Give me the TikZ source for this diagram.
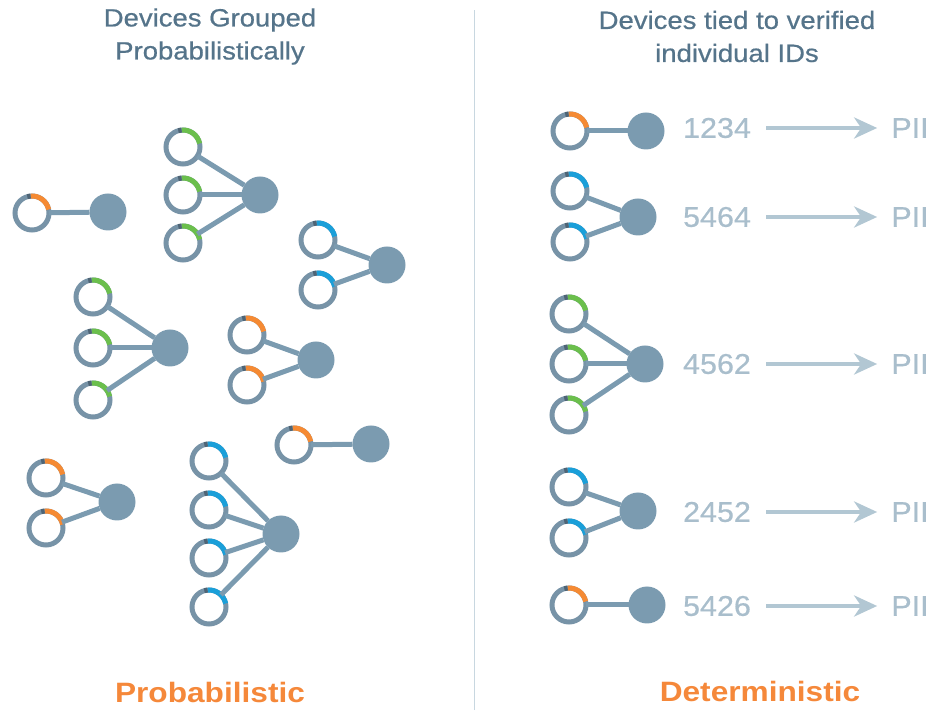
\documentclass[tikz,border=0pt]{standalone}
\usepackage{fontspec}
\setmainfont{Liberation Sans}
\newfontfamily\titlefont[FakeStretch=1.1,FakeBold=0.6]{Liberation Sans}
\newfontfamily\numfont[FakeStretch=1.07,FakeBold=0.6]{Liberation Sans}
\newfontfamily\labfont[FakeStretch=1.13]{Liberation Sans}
\usetikzlibrary{arrows.meta}
\definecolor{ringc}{HTML}{7793A7}
\definecolor{hubc}{HTML}{7B9BB0}
\definecolor{darkc}{HTML}{4E6475}
\definecolor{orangec}{HTML}{F58A33}
\definecolor{greenc}{HTML}{6BBF4C}
\definecolor{bluec}{HTML}{1A9FD9}
\definecolor{titlec}{HTML}{55748A}
\definecolor{numc}{HTML}{A9BECC}
\definecolor{arrc}{HTML}{B2C7D3}
\definecolor{divc}{HTML}{C8D7E0}
\definecolor{labc}{HTML}{F5883A}
\tikzset{
  ring/.style={circle, draw=ringc, line width=5pt, minimum size=34pt, inner sep=0pt, outer sep=0pt, fill=white},
  hub/.style={circle, fill=hubc, minimum size=37pt, inner sep=0pt, outer sep=0pt},
  link/.style={draw=hubc, line width=5pt},
  titletext/.style={text=titlec, align=center, font=\titlefont\fontsize{25}{33}\selectfont},
  numtext/.style={text=numc, inner sep=0pt, font=\numfont\fontsize{28.5}{30}\selectfont},
  bigarrow/.style={draw=arrc, line width=4.5pt, shorten <=15pt, shorten >=14pt, -{Stealth[length=23pt,width=21pt,inset=7pt]}},
  labtext/.style={text=labc, font=\labfont\bfseries\fontsize{28}{30}\selectfont}
}
\newcommand\devring[3]{%
  \node[ring] (#1) at (#2) {};
  \draw[line width=5pt, #3] (#1.95) arc[start angle=95,end angle=12,radius=17pt];
  \draw[line width=5pt, darkc] (#1.106) arc[start angle=106,end angle=95,radius=17pt];
}
\begin{document}
\begin{tikzpicture}[x=1pt,y=1pt]
\useasboundingbox (0,0) rectangle (935,710);
% divider
\draw[divc, line width=1pt] (474,0) -- (474,700);
% titles
\node[titletext] (tl) at (210,673.5) {Devices Grouped\\Probabilistically};
\node[titletext] (tr) at (737,673.5) {Devices tied to verified\\individual IDs};
\node[labtext] (ll) at (210,18) {Probabilistic};
\node[labtext] (lr) at (760,19) {Deterministic};

% ---------- left side ----------
% A
\node[hub] (hA) at (108,498) {};
\devring{rA1}{32,497}{orangec}
\draw[link] (hA) -- (rA1);
% B
\node[hub] (hB) at (260,515) {};
\devring{rB1}{183,563}{greenc}
\devring{rB2}{183,515}{greenc}
\devring{rB3}{183,467}{greenc}
\foreach \r in {rB1,rB2,rB3} \draw[link] (hB) -- (\r);
% C
\node[hub] (hC) at (387,445) {};
\devring{rC1}{318,470}{bluec}
\devring{rC2}{318,420}{bluec}
\foreach \r in {rC1,rC2} \draw[link] (hC) -- (\r);
% D
\node[hub] (hD) at (170,362) {};
\devring{rD1}{93,413}{greenc}
\devring{rD2}{93,362}{greenc}
\devring{rD3}{93,310}{greenc}
\foreach \r in {rD1,rD2,rD3} \draw[link] (hD) -- (\r);
% E
\node[hub] (hE) at (316,350) {};
\devring{rE1}{247,375}{orangec}
\devring{rE2}{247,325}{orangec}
\foreach \r in {rE1,rE2} \draw[link] (hE) -- (\r);
% F
\node[hub] (hF) at (371,266) {};
\devring{rF1}{294,265}{orangec}
\draw[link] (hF) -- (rF1);
% G
\node[hub] (hG) at (117,208) {};
\devring{rG1}{46,232}{orangec}
\devring{rG2}{46,182}{orangec}
\foreach \r in {rG1,rG2} \draw[link] (hG) -- (\r);
% H
\node[hub] (hH) at (281,176) {};
\devring{rH1}{209,249}{bluec}
\devring{rH2}{209,200}{bluec}
\devring{rH3}{209,152}{bluec}
\devring{rH4}{209,103}{bluec}
\foreach \r in {rH1,rH2,rH3,rH4} \draw[link] (hH) -- (\r);

% ---------- right side ----------
% row 1
\node[hub] (h1) at (646,579) {};
\devring{r11}{570,579}{orangec}
\draw[link] (h1) -- (r11);
\node[numtext] (n1) at (717,582) {1234};
\node[numtext] (p1) at (910,582) {PII};
\draw[bigarrow] (n1) -- (p1);
% row 2
\node[hub] (h2) at (638,493) {};
\devring{r21}{570,519}{bluec}
\devring{r22}{570,468}{bluec}
\foreach \r in {r21,r22} \draw[link] (h2) -- (\r);
\node[numtext] (n2) at (717,493) {5464};
\node[numtext] (p2) at (910,493) {PII};
\draw[bigarrow] (n2) -- (p2);
% row 3
\node[hub] (h3) at (645,346) {};
\devring{r31}{569,396}{greenc}
\devring{r32}{569,346}{greenc}
\devring{r33}{569,295}{greenc}
\foreach \r in {r31,r32,r33} \draw[link] (h3) -- (\r);
\node[numtext] (n3) at (717,346) {4562};
\node[numtext] (p3) at (910,346) {PII};
\draw[bigarrow] (n3) -- (p3);
% row 4
\node[hub] (h4) at (638,199) {};
\devring{r41}{569,223}{bluec}
\devring{r42}{569,172}{bluec}
\foreach \r in {r41,r42} \draw[link] (h4) -- (\r);
\node[numtext] (n4) at (717,198) {2452};
\node[numtext] (p4) at (910,198) {PII};
\draw[bigarrow] (n4) -- (p4);
% row 5
\node[hub] (h5) at (647,105) {};
\devring{r51}{569,105}{orangec}
\draw[link] (h5) -- (r51);
\node[numtext] (n5) at (717,104) {5426};
\node[numtext] (p5) at (910,104) {PII};
\draw[bigarrow] (n5) -- (p5);
\end{tikzpicture}
\end{document}
